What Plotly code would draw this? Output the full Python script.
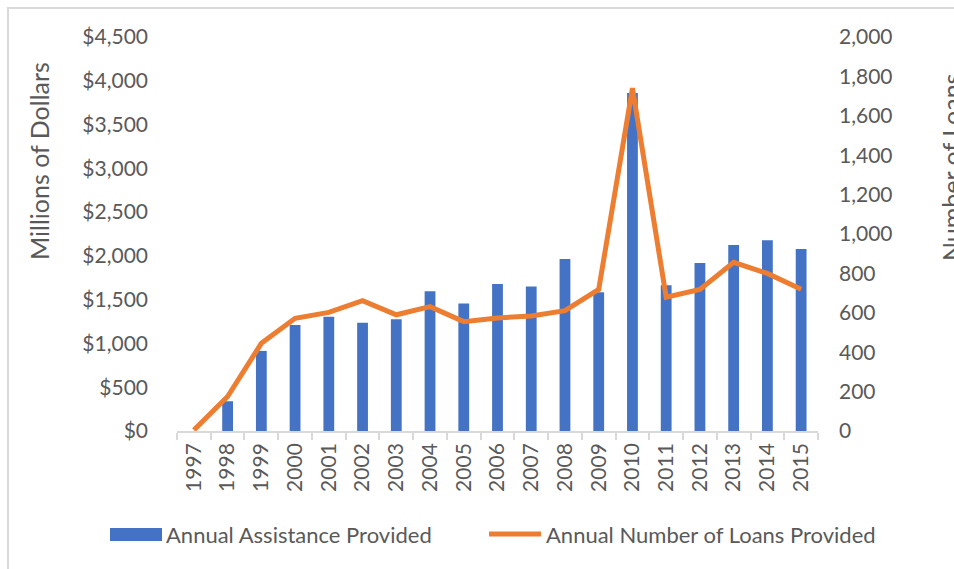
import plotly.graph_objects as go

years = [str(y) for y in range(1997, 2016)]
assistance = [0, 340, 915, 1210, 1305, 1235, 1275, 1595, 1455, 1680, 1650,
              1965, 1585, 3860, 1665, 1920, 2125, 2180, 2080]
loans = [5, 175, 445, 572, 602, 662, 590, 631, 555, 574, 584,
         611, 719, 1740, 679, 719, 856, 800, 719]

W, H = 954, 569
L, R, T, B = 177, 818, 37, 431   # plot area in page pixels
FONT = "Lato"
GREY = "#595959"
BLUE = "#4472C4"
ORANGE = "#ED7D31"


def px(x):
    return (x - L) / (R - L)


def py(y):
    return (B - y) / (B - T)


fig = go.Figure()
fig.add_trace(go.Bar(x=years, y=assistance, name="Annual Assistance Provided",
                     marker=dict(color=BLUE, line=dict(width=0)), yaxis="y"))
fig.add_trace(go.Scatter(x=years, y=loans, name="Annual Number of Loans Provided",
                         mode="lines", line=dict(color=ORANGE, width=5), yaxis="y2"))

tickfont = dict(family=FONT, size=21, color=GREY)

fig.update_layout(
    width=W, height=H,
    margin=dict(l=L, r=W - R, t=T, b=H - B),
    paper_bgcolor="white", plot_bgcolor="white",
    showlegend=False,
    bargap=0.68,
    xaxis=dict(type="category", tickangle=-90, tickfont=tickfont,
               showline=True, linecolor="#d9d9d9", linewidth=1.5,
               ticks="outside", tickson="boundaries", ticklen=7,
               tickcolor="#d9d9d9", tickwidth=1.5, showgrid=False,
               ticklabelstandoff=2),
    yaxis=dict(range=[0, 4500], dtick=500, tickprefix="$", tickformat=",d",
               tickfont=tickfont, showgrid=False, zeroline=False,
               ticklabelstandoff=28),
    yaxis2=dict(range=[0, 2000], dtick=200, tickformat=",d", overlaying="y",
                side="right", tickfont=tickfont, showgrid=False, zeroline=False,
                ticklabelstandoff=20),
)

# chart border (cropped on right and bottom)
fig.add_shape(type="rect", xref="paper", yref="paper",
              x0=px(8), x1=px(1100), y0=py(700), y1=py(8),
              line=dict(color="#d9d9d9", width=2), layer="below")

# axis titles
fig.add_annotation(text="Millions of Dollars", xref="paper", yref="paper",
                   x=px(39), y=py(161), xanchor="center", yanchor="middle",
                   textangle=-90, showarrow=False,
                   font=dict(family=FONT, size=25, color=GREY))
fig.add_annotation(text="Number of Loans", xref="paper", yref="paper",
                   x=px(951), y=py(168), xanchor="center", yanchor="middle",
                   textangle=-90, showarrow=False,
                   font=dict(family=FONT, size=25, color=GREY))

# legend
fig.add_shape(type="rect", xref="paper", yref="paper",
              x0=px(110), x1=px(162), y0=py(541), y1=py(528),
              fillcolor=BLUE, line=dict(width=0))
fig.add_shape(type="line", xref="paper", yref="paper",
              x0=px(489), x1=px(541), y0=py(534), y1=py(534),
              line=dict(color=ORANGE, width=5))
fig.add_annotation(text="Annual Assistance Provided", xref="paper", yref="paper",
                   x=px(164), y=py(534), xanchor="left", yanchor="middle",
                   showarrow=False, font=dict(family=FONT, size=22, color=GREY))
fig.add_annotation(text="Annual Number of Loans Provided", xref="paper", yref="paper",
                   x=px(544), y=py(534), xanchor="left", yanchor="middle",
                   showarrow=False, font=dict(family=FONT, size=22, color=GREY))

# drop the default page margin so the figure fills the window
fig.write_html("out.html",
               config={"displayModeBar": False},
               post_script="document.body.style.margin='0';"
                           "document.body.style.overflow='hidden';")
